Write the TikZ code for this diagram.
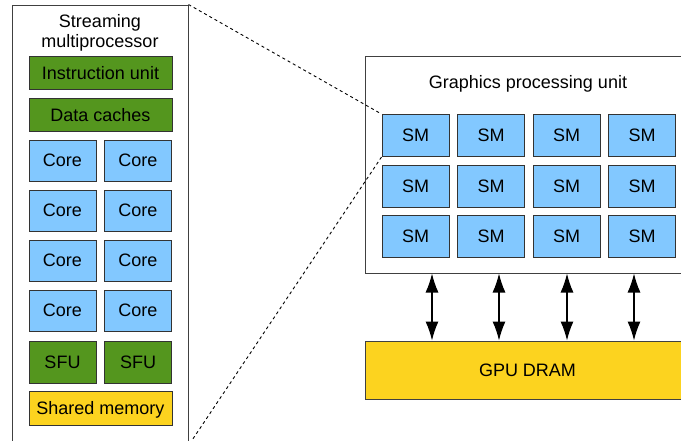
\documentclass[tikz,border=0pt]{standalone}
\usepackage{fontspec}
\setmainfont{Liberation Sans}
\usepackage{xcolor}
\usepackage{tikz}
\usetikzlibrary{calc, arrows.meta, positioning}

\definecolor{unitgreen}{RGB}{84,150,30}
\definecolor{smblue}{RGB}{130,200,255}
\definecolor{memyellow}{RGB}{252,211,31}

\begin{document}
\begin{tikzpicture}[x=1pt, y=-1pt, auto, >=latex, font=\fontsize{18}{20}\selectfont]
		\tikzstyle{frame} = [draw=black!75, line width=1pt, inner sep=0pt]
		\tikzstyle{invis} = [draw=none, inner sep=0pt, align=center]
		\tikzstyle{box} = [draw=black!80, line width=1pt, inner sep=0pt, text depth=0pt]
		\tikzstyle{unit} = [box, fill=unitgreen, minimum width=143pt, minimum height=33pt]
		\tikzstyle{core} = [box, fill=smblue, minimum width=67pt, minimum height=41pt]
		\tikzstyle{sm} = [box, fill=smblue, minimum width=67pt, minimum height=42pt]
		\tikzstyle{arrow} = [line width=1.2pt, {Latex[length=19pt, width=13pt]}-{Latex[length=19pt, width=13pt]}]
		\tikzstyle{zoom} = [line width=0.9pt, dash pattern=on 3pt off 3pt]

		\useasboundingbox (0,0) rectangle (681,440);

		% streaming multiprocessor
		\node[frame, minimum width=176pt, minimum height=440pt] at (100,225) (smbox) {};
		\node[invis, anchor=north] at (100,14) (smtitle) {Streaming\\multiprocessor};
		\node[unit] at (100.5,73) (instr) {Instruction unit};
		\node[unit] at (100.5,115) (cache) {Data caches};
		\foreach \i/\y in {1/160.5, 2/210.5, 3/260.5, 4/310.5} {
			\node[core] at (62.5,\y) (corea\i) {Core};
			\node[core] at (138,\y) (coreb\i) {Core};
		}
		\node[core, fill=unitgreen, minimum height=42pt] at (62.5,362) (sfua) {SFU};
		\node[core, fill=unitgreen, minimum height=42pt] at (138,362) (sfub) {SFU};
		\node[unit, fill=memyellow, minimum height=34pt] at (100.5,408) (shmem) {Shared memory};

		% graphics processing unit
		\node[frame, minimum width=325pt, minimum height=217pt] at (527.5,164.5) (gpu) {};
		\node[invis, anchor=base] at (528,88) (gputitle) {Graphics processing unit};
		\foreach \r/\y in {1/135.5, 2/186, 3/236} {
			\foreach \c/\x in {1/415.5, 2/491, 3/566.5, 4/642} {
				\node[sm] at (\x,\y) (sm\r\c) {SM};
			}
		}
		\node[frame, fill=memyellow, minimum width=325pt, minimum height=58pt, text depth=0pt] at (527.5,370) (dram) {GPU DRAM};

		\foreach \x in {432, 499, 567, 634}
			\draw[arrow] (\x,0 |- gpu.south) -- (\x,0 |- dram.north);

		\path[zoom]
		(smbox.north east)	edge	(sm11.north west)
		(sm11.south west)	edge	(smbox.south east);
	\end{tikzpicture}
\end{document}
